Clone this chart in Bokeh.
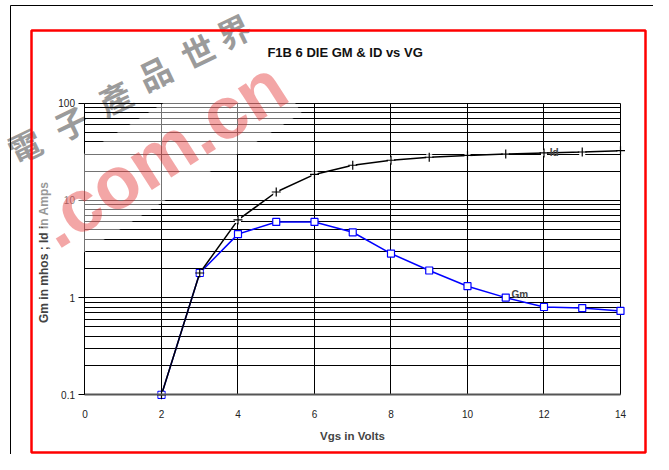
from bokeh.plotting import figure
from bokeh.models import (Label, PolyAnnotation, FixedTicker, Range1d, LinearAxis, LogAxis, Grid)
from bokeh.embed import file_html
from bokeh.resources import INLINE

# ---- data ----
vgs = [2, 3, 4, 5, 6, 7, 8, 9, 10, 11, 12, 13, 14]
id_amps = [0.1, 1.79, 6.3, 12.2, 18.5, 23.0, 25.9, 27.8, 29.0, 30.0, 30.8, 31.5, 32.5]
gm_mhos = [0.1, 1.79, 4.5, 6.0, 6.0, 4.7, 2.84, 1.9, 1.31, 1.0, 0.8, 0.78, 0.73]
x_ticks = [0, 2, 4, 6, 8, 10, 12, 14]
y_ticks = [0.1, 1, 10, 100]
y_minor = [0.2, 0.3, 0.4, 0.5, 0.6, 0.7, 0.8, 0.9, 2, 3, 4, 5, 6, 7, 8, 9,
           20, 30, 40, 50, 60, 70, 80, 90]
title_text = "F1B 6 DIE  GM & ID  vs  VG"
x_label = "Vgs in Volts"
y_label = "Gm in  mhos ;  Id in Amps"
wm_chars = ["電", "子", "產", "品", "世", "界"]
wm_url = ".com.cn"

FONT = "Liberation Sans"

# the frame covers the whole canvas; axes are pinned at x=0 / y=0.1
p = figure(width=653, height=454, output_backend="svg", toolbar_location=None, title=None,
           y_axis_type="log", x_axis_location=None, y_axis_location=None,
           x_range=Range1d(-2.209, 14.863), y_range=Range1d(0.0243, 1140),
           min_border=0)
p.background_fill_color = "white"
p.border_fill_color = "white"
p.outline_line_color = None
p.center = [r for r in p.center if not isinstance(r, Grid)]

xt = FixedTicker(ticks=x_ticks)
yt = FixedTicker(ticks=y_ticks, minor_ticks=y_minor)

# helpers: reference pixel -> screen units
def sx(rx):
    return rx
def sy(ry):
    return 454 - ry

# watermark (drawn first, beneath everything)
wm_pos = [(24, 145), (70, 122), (114, 97), (154, 72), (197, 50), (233, 30)]
for ch, (rx, ry) in zip(wm_chars, wm_pos):
    p.add_layout(Label(x=sx(rx), y=sy(ry), x_units="screen", y_units="screen", text=ch,
                       text_font="Noto Sans CJK TC", text_font_size="33px", text_font_style="bold",
                       text_color="#7a7a7a", text_alpha=0.75, angle=0.45,
                       text_align="center", text_baseline="middle", level="underlay"))

xg = Grid(dimension=0, ticker=xt, bounds=(0, 14), cross_bounds=(0.1, 100),
          grid_line_color="black", grid_line_width=1)
yg = Grid(dimension=1, ticker=yt, bounds=(0.1, 100), cross_bounds=(0, 14),
          grid_line_color="black", grid_line_width=1,
          minor_grid_line_color="black", minor_grid_line_width=1)
p.add_layout(xg)
p.add_layout(yg)

xa = LinearAxis(ticker=xt, fixed_location=0.1, bounds=(0, 14))
xa.major_tick_out = 0
xa.major_tick_in = 0
xa.minor_tick_out = 0
xa.minor_tick_in = 0
xa.axis_line_color = "#555555"
xa.axis_line_width = 2
xa.major_label_standoff = 15
xa.major_label_text_font = FONT
xa.major_label_text_font_size = "10px"
xa.major_label_text_color = "#222222"
xa.axis_label = x_label
xa.axis_label_text_font = FONT
xa.axis_label_text_font_size = "11.5px"
xa.axis_label_text_font_style = "bold"
xa.axis_label_standoff = 9
p.add_layout(xa, "below")

ya = LogAxis(ticker=yt, fixed_location=0, bounds=(0.1, 100))
ya.major_tick_out = 6
ya.major_tick_in = 0
ya.minor_tick_out = 0
ya.minor_tick_in = 0
ya.axis_line_color = "black"
ya.major_label_overrides = {0.1: "0.1", 1: "1", 10: "10", 100: "100"}
ya.major_label_standoff = 4
ya.major_label_text_font = FONT
ya.major_label_text_font_size = "10px"
ya.major_label_text_color = "#222222"
ya.axis_label = y_label
ya.axis_label_text_font = FONT
ya.axis_label_text_font_size = "12px"
ya.axis_label_text_font_style = "bold"
ya.axis_label_standoff = 4
p.add_layout(ya, "left")

# series
p.line(vgs, gm_mhos, line_color="#0000ff", line_width=1.5)
p.scatter(vgs, gm_mhos, marker="square", size=7, fill_color="white", line_color="#0000ff", line_width=1.2)
p.line(vgs, id_amps, line_color="black", line_width=1.5)
p.scatter(vgs, id_amps, marker="square", size=6, fill_color="white", line_color=None)
p.scatter(vgs, id_amps, marker="cross", size=9, line_color="black", line_width=1.2)

p.add_layout(Label(x=12.15, y=31, text="Id", text_font=FONT, text_font_size="10px",
                   text_font_style="bold", text_baseline="middle", text_align="left"))
p.add_layout(Label(x=11.15, y=1.07, text="Gm", text_font=FONT, text_font_size="10px",
                   text_font_style="bold", text_baseline="middle", text_align="left"))

# red watermark text with its pale band
p.add_layout(Label(x=sx(161), y=sy(153), x_units="screen", y_units="screen", text=wm_url,
                   text_font=FONT, text_font_size="74px", text_font_style="bold",
                   text_color="#e02020", text_alpha=0.4, angle=0.57,
                   background_fill_color="white", background_fill_alpha=0.45,
                   text_align="center", text_baseline="middle"))

# title
p.add_layout(Label(x=sx(350), y=sy(52), x_units="screen", y_units="screen", text=title_text,
                   text_font=FONT, text_font_size="13px", text_font_style="bold",
                   text_align="center", text_baseline="middle", text_color="#111111"))

# page frames
p.add_layout(PolyAnnotation(xs=[sx(31), sx(645), sx(645), sx(31)], ys=[sy(30), sy(30), sy(452), sy(452)],
                            xs_units="screen", ys_units="screen", fill_alpha=0,
                            line_color="#ff0000", line_alpha=1, line_width=2.5))
p.add_layout(PolyAnnotation(xs=[sx(10), sx(10)], ys=[sy(460), sy(5)],
                            xs_units="screen", ys_units="screen", fill_alpha=0,
                            line_color="black", line_alpha=1, line_width=1))
p.add_layout(PolyAnnotation(xs=[sx(10), sx(660)], ys=[sy(5), sy(5)],
                            xs_units="screen", ys_units="screen", fill_alpha=0,
                            line_color="black", line_alpha=1, line_width=1))

open("out.html", "w").write(file_html(p, INLINE))
